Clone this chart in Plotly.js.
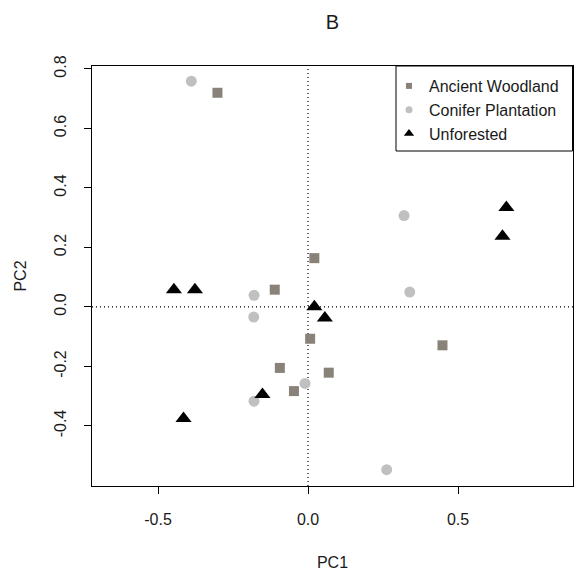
<!DOCTYPE html>
<html>
<head>
<meta charset="utf-8">
<script src="https://cdn.plot.ly/plotly-3.0.1.min.js"></script>
<style>html,body{margin:0;padding:0;background:#fff;}#chart{width:574px;height:571px;}</style>
</head>
<body>
<div id="chart"></div>
<script>
// Data (PC1, PC2 scores)
var groupNames = ["Ancient Woodland", "Conifer Plantation", "Unforested"];

var ancientPC1 = [-0.302, 0.021, -0.111, 0.007, 0.448, -0.094, 0.069, -0.047];
var ancientPC2 = [0.720, 0.164, 0.058, -0.107, -0.129, -0.205, -0.221, -0.283];

var coniferPC1 = [-0.389, 0.320, -0.180, -0.181, 0.339, -0.010, -0.180, 0.262];
var coniferPC2 = [0.759, 0.307, 0.039, -0.034, 0.050, -0.257, -0.317, -0.547];

var unforestedPC1 = [-0.447, -0.377, 0.021, 0.056, 0.661, 0.648, -0.415, -0.152];
var unforestedPC2 = [0.058, 0.058, 0.001, -0.037, 0.334, 0.238, -0.375, -0.294];

var xTicks = [-0.5, 0.0, 0.5];
var xTickText = ["-0.5", "0.0", "0.5"];
var yTicks = [-0.4, -0.2, 0.0, 0.2, 0.4, 0.6, 0.8];
var yTickText = ["-0.4", "-0.2", "0.0", "0.2", "0.4", "0.6", "0.8"];
var refLine = 0;

var W = 574, H = 571;
var mL = 92, mR = 1, mT = 66, mB = 85;
var plotW = W - mL - mR, plotH = H - mT - mB;

var colAncient = "#898279";
var colConifer = "#c0c0c0";
var colUnf = "#000000";
var txt = "#1a1a1a";
var fam = "Liberation Sans, Arial, sans-serif";

var traces = [
  {x: ancientPC1, y: ancientPC2, type: "scatter", mode: "markers", showlegend: false,
   marker: {symbol: "square", size: 10, color: colAncient}},
  {x: coniferPC1, y: coniferPC2, type: "scatter", mode: "markers", showlegend: false,
   marker: {symbol: "circle", size: 11, color: colConifer}},
  {x: unforestedPC1, y: unforestedPC2, type: "scatter", mode: "markers", showlegend: false,
   marker: {symbol: "triangle-up", size: 14, color: colUnf}},
  // legend-only entries (smaller symbols like the reference legend)
  {x: [null], y: [null], type: "scatter", mode: "markers", name: groupNames[0],
   marker: {symbol: "square", size: 6, color: colAncient}},
  {x: [null], y: [null], type: "scatter", mode: "markers", name: groupNames[1],
   marker: {symbol: "circle", size: 7, color: colConifer}},
  {x: [null], y: [null], type: "scatter", mode: "markers", name: groupNames[2],
   marker: {symbol: "triangle-up", size: 9, color: colUnf}}
];

function px2paperX(p) { return (p - mL) / plotW; }
function px2paperY(p) { return (H - mB - p) / plotH; }

var layout = {
  width: W, height: H,
  margin: {l: mL, r: mR, t: mT, b: mB, pad: 0},
  paper_bgcolor: "#ffffff", plot_bgcolor: "#ffffff",
  font: {family: fam, size: 16, color: txt},
  title: {text: "B", font: {family: fam, size: 20, color: txt},
          xref: "paper", x: 0.5, xanchor: "center",
          yref: "container", y: 1 - 22 / H, yanchor: "middle"},
  showlegend: true,
  legend: {x: px2paperX(389), xanchor: "left", y: px2paperY(69), yanchor: "top",
           bgcolor: "rgba(0,0,0,0)", borderwidth: 0,
           font: {family: fam, size: 16, color: txt}, tracegroupgap: 0},
  xaxis: {range: [-0.72, 0.883], tickmode: "array", tickvals: xTicks, ticktext: xTickText,
          showgrid: false, zeroline: false, showline: true, mirror: true,
          linecolor: "#000", linewidth: 1, ticks: "outside", ticklen: 7, tickcolor: "#000",
          tickfont: {family: fam, size: 16, color: txt}, ticklabelstandoff: 12,
          title: {text: "PC1", font: {family: fam, size: 16, color: txt}, standoff: 32}},
  yaxis: {range: [-0.602, 0.81], tickmode: "array", tickvals: yTicks, ticktext: yTickText,
          tickangle: -90,
          showgrid: false, zeroline: false, showline: true, mirror: true,
          linecolor: "#000", linewidth: 1, ticks: "outside", ticklen: 7, tickcolor: "#000",
          tickfont: {family: fam, size: 16, color: txt}, ticklabelstandoff: 12,
          title: {text: "PC2", font: {family: fam, size: 16, color: txt}, standoff: 20}},
  shapes: [
    {type: "line", xref: "x", yref: "paper", x0: refLine, x1: refLine, y0: 0, y1: 1,
     line: {color: "#000", width: 1.2, dash: "1px,3px"}, layer: "below"},
    {type: "line", xref: "paper", yref: "y", x0: 0, x1: 1, y0: refLine, y1: refLine,
     line: {color: "#000", width: 1.2, dash: "1px,3px"}, layer: "below"},
    {type: "rect", xref: "paper", yref: "paper",
     x0: px2paperX(396), x1: px2paperX(572.5), y0: px2paperY(151), y1: 1,
     line: {color: "#000", width: 1}, fillcolor: "rgba(0,0,0,0)", layer: "above"}
  ]
};

Plotly.newPlot("chart", traces, layout, {displayModeBar: false, staticPlot: true});
</script>
</body>
</html>
